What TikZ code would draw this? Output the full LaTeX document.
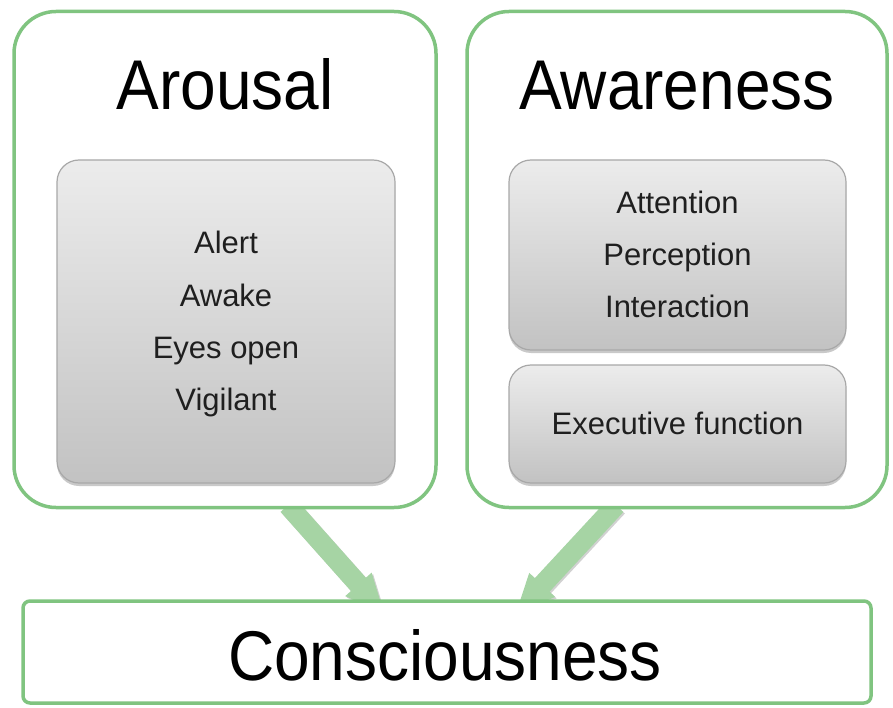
\documentclass[tikz,border=0pt]{standalone}
\usepackage{fontspec}
\setmainfont{Liberation Sans}
\usetikzlibrary{arrows.meta,calc,shadows}
\pgfdeclarelayer{bg}
\pgfsetlayers{bg,main}

\definecolor{framegreen}{RGB}{128,196,128}
\definecolor{arrowgreen}{RGB}{166,212,164}
\definecolor{boxedge}{RGB}{168,168,168}
\definecolor{boxtop}{RGB}{236,236,236}
\definecolor{boxbottom}{RGB}{194,194,194}

% headings are set slightly taller than wide
\newcommand\tallword[1]{\scalebox{1}[1.1]{#1}}

\tikzset{
  frame/.style={draw=framegreen, line width=3.5pt, rounded corners=42pt, fill=white, inner sep=0pt},
  basebox/.style={draw=framegreen, line width=3.5pt, rounded corners=7pt, fill=white, inner sep=0pt},
  panel/.style={draw=boxedge, line width=1.2pt, rounded corners=22pt, inner sep=0pt,
    top color=boxtop, bottom color=boxbottom,
    drop shadow={shadow xshift=0pt, shadow yshift=-3pt, opacity=0.35, fill=black!60}},
  title/.style={font=\fontsize{64}{64}\selectfont, anchor=base, text=black},
  item/.style={font=\fontsize{31}{31}\selectfont, anchor=base, text=black!88},
  flow/.style={draw=arrowgreen, line width=20pt, -{Triangle[width=32pt,length=40pt]}},
  flowshade/.style={draw=black, opacity=0.18, line width=20pt, -{Triangle[width=32pt,length=40pt]}},
}

\begin{document}
\begin{tikzpicture}[x=1pt, y=-1pt]
  \useasboundingbox (0,0) rectangle (893,708);

  % outer groups
  \node[frame, minimum width=422pt, minimum height=496pt] (arousal) at (225,259.5) {};
  \node[frame, minimum width=420pt, minimum height=496pt] (awareness) at (677,259.5) {};
  \node[basebox, minimum width=848pt, minimum height=102pt] (conscious) at (447,652) {};

  % grey panels
  \node[panel, minimum width=338pt, minimum height=323pt] (signs) at (226,321.5) {};
  \node[panel, minimum width=337pt, minimum height=190pt] (content) at (677.5,255) {};
  \node[panel, minimum width=337pt, minimum height=118pt] (exec) at (677.5,424) {};

  % headings
  \node[title] (arousaltitle) at (225,110) {\tallword{Arousal}};
  \node[title] (awarenesstitle) at (677,110) {\tallword{Awareness}};
  \node[title] (conscioustitle) at (445,680) {\tallword{Consciousness}};

  % arousal items
  \node[item] (alert) at (226,254) {Alert};
  \node[item] (awake) at (226,306) {Awake};
  \node[item] (eyes) at (226,358) {Eyes open};
  \node[item] (vigilant) at (226,410) {Vigilant};

  % awareness items
  \node[item] (attention) at (677.5,214) {Attention};
  \node[item] (perception) at (677.5,266) {Perception};
  \node[item] (interaction) at (677.5,317) {Interaction};
  \node[item] (executive) at (677.5,434) {Executive function};

  % broad arrows run behind the boxes, so the boxes trim their ends
  \begin{pgfonlayer}{bg}
    \draw[flowshade] ($(arousal.south)+(64.5,-2.5)$) -- ($(conscious.north)+(-60.5,16.5)$);
    \draw[flowshade] ($(awareness.south)+(-59.5,-2.5)$) -- ($(conscious.north)+(69.5,16.5)$);
    \draw[flow] ($(arousal.south)+(63,-4)$) -- ($(conscious.north)+(-62,15)$);
    \draw[flow] ($(awareness.south)+(-61,-4)$) -- ($(conscious.north)+(68,15)$);
  \end{pgfonlayer}
\end{tikzpicture}
\end{document}
